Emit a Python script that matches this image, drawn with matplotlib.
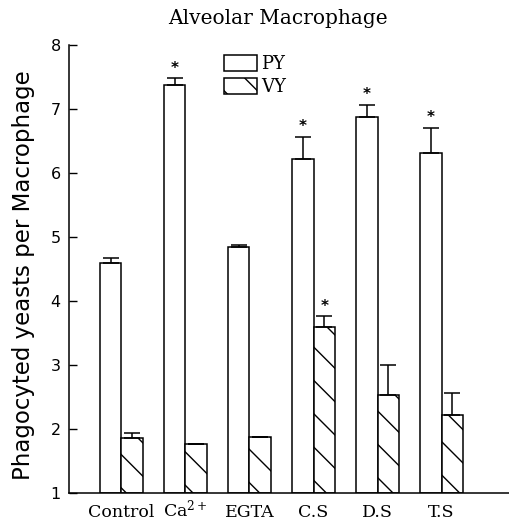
import matplotlib
matplotlib.use("Agg")
import matplotlib.pyplot as plt
import numpy as np

categories = ["Control", "Ca$^{2+}$", "EGTA", "C.S", "D.S", "T.S"]
py_values = [4.59, 7.37, 4.84, 6.22, 6.87, 6.32]
py_errors = [0.08, 0.11, 0.04, 0.34, 0.19, 0.38]
vy_values = [1.855, 1.76, 1.88, 3.60, 2.53, 2.22]
vy_errors = [0.09, 0.0, 0.0, 0.16, 0.47, 0.34]
py_star = [False, True, False, True, True, True]
vy_star = [False, False, False, True, False, False]
y_ticks = [1, 2, 3, 4, 5, 6, 7, 8]

SERIF = 'DejaVu Serif'
plt.rcParams['mathtext.fontset'] = 'custom'
plt.rcParams['mathtext.rm'] = SERIF
plt.rcParams['mathtext.it'] = SERIF
plt.rcParams['hatch.linewidth'] = 1.0

W, H = 510, 521
fig = plt.figure(figsize=(W/100, H/100), dpi=100)
ax = fig.add_axes([69/W, 1-493/H, 1-69/W, (493-45)/H])

x = np.arange(len(categories))
w = 0.34
ax.bar(x - w, np.array(py_values) - 1, bottom=1, width=w, align='edge',
       facecolor='white', edgecolor='black', linewidth=1.1, label='PY')
ax.bar(x, np.array(vy_values) - 1, bottom=1, width=w, align='edge',
       facecolor='white', edgecolor='black', linewidth=1.1, hatch='\\',
       label='VY')

ax.errorbar(x - w/2, py_values, yerr=[np.zeros(len(x)), py_errors], fmt='none',
            ecolor='black', elinewidth=1.1, capsize=5.5, capthick=1.1)
ax.errorbar(x + w/2, vy_values, yerr=[np.zeros(len(x)), vy_errors], fmt='none',
            ecolor='black', elinewidth=1.1, capsize=5.5, capthick=1.1)

for i in range(len(x)):
    if py_star[i]:
        ax.annotate('*', (x[i] - w/2, py_values[i] + py_errors[i]), xytext=(0, 2),
                    textcoords='offset points', ha='center', va='bottom',
                    fontsize=11, fontweight='bold', family='DejaVu Sans')
    if vy_star[i]:
        ax.annotate('*', (x[i] + w/2, vy_values[i] + vy_errors[i]), xytext=(0, 2),
                    textcoords='offset points', ha='center', va='bottom',
                    fontsize=11, fontweight='bold', family='DejaVu Sans')

ax.set_xlim(-0.82, 6.07)
ax.set_ylim(1, 8)
ax.set_yticks(y_ticks)
ax.set_yticklabels([str(t) for t in y_ticks], family='DejaVu Sans', fontsize=11.5)
ax.tick_params(axis='y', direction='in', length=6, width=1, pad=6)
ax.set_xticks(x)
ax.set_xticklabels(categories, family=SERIF, fontsize=12.5,
                   va='baseline')
ax.tick_params(axis='x', length=0, pad=17)
for s in ['top', 'right']:
    ax.spines[s].set_visible(False)
ax.spines['left'].set_linewidth(1.1)
ax.spines['bottom'].set_linewidth(1.1)

fig.text(24/W, 1-275/H, 'Phagocyted yeasts per Macrophage', rotation=90,
         ha='center', va='center', family='DejaVu Sans', fontsize=16.5)
fig.text(278/W, 1-18/H, 'Alveolar Macrophage', ha='center', va='center',
         family=SERIF, fontsize=14.5)

ax.legend(loc='upper left', bbox_to_anchor=(224/W, 1-55/H),
          bbox_transform=fig.transFigure, frameon=False,
          prop={'family': SERIF, 'size': 13},
          handlelength=1.85, handleheight=0.95, labelspacing=0.3,
          handletextpad=0.2, borderpad=0, borderaxespad=0)

fig.savefig('out.png', dpi=100)
